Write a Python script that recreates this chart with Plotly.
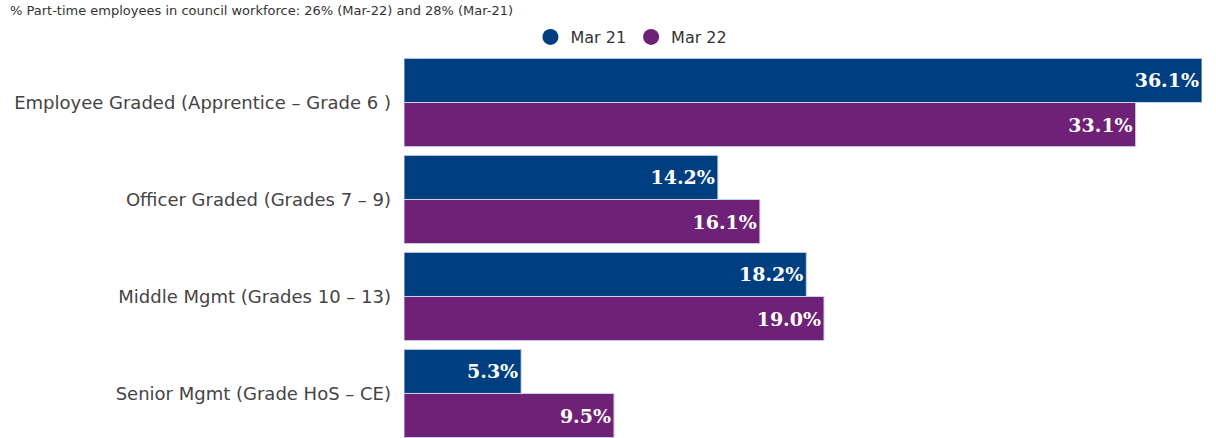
import plotly.graph_objects as go

categories = [
    "Employee Graded (Apprentice – Grade 6 )",
    "Officer Graded (Grades 7 – 9)",
    "Middle Mgmt (Grades 10 – 13)",
    "Senior Mgmt (Grade HoS – CE)",
]
series_names = ["Mar 21", "Mar 22"]
mar21 = [36.1, 14.2, 18.2, 5.3]
mar22 = [33.1, 16.1, 19.0, 9.5]
colors = ["#003f7f", "#6e2177"]
subtitle = "% Part-time employees in council workforce: 26% (Mar-22) and 28% (Mar-21)"

fig = go.Figure()
for name, vals, col in zip(series_names, [mar21, mar22], colors):
    fig.add_trace(go.Bar(
        y=categories, x=vals, orientation="h", name=name,
        marker=dict(color=col, line=dict(color="#c8d4e8", width=1)),
        text=[f"{v:.1f}%" for v in vals], textposition="inside",
        insidetextanchor="end",
        textfont=dict(family="DejaVu Serif", size=19, color="white", weight="bold"),
        showlegend=False,
    ))
    # circular legend markers
    fig.add_trace(go.Scatter(
        x=[None], y=[None], mode="markers", name=name,
        marker=dict(color=col, size=16, symbol="circle"),
    ))

fig.update_layout(
    width=1216, height=438,
    margin=dict(l=404, r=14, t=54, b=0),
    paper_bgcolor="white", plot_bgcolor="white",
    barmode="group", bargap=0.09, bargroupgap=0,
    font=dict(family="DejaVu Sans", color="#444444"),
    xaxis=dict(range=[0, 36.1], visible=False, fixedrange=True),
    yaxis=dict(
        type="category", categoryorder="array", categoryarray=categories,
        range=[3.459, -0.5], showgrid=False, showline=False, ticks="",
        ticklabelstandoff=12, tickfont=dict(size=18, color="#444444"),
    ),
    legend=dict(
        orientation="h", x=0.285, xanchor="center", y=1.0, yanchor="bottom",
        yref="paper", font=dict(size=16, color="#333333"),
        itemwidth=30, tracegroupgap=0,
    ),
    uniformtext=dict(minsize=8, mode="show"),
)
fig.add_annotation(
    text=subtitle, xref="paper", yref="paper", x=-396/798, xanchor="left",
    y=1, yanchor="bottom", yshift=34, showarrow=False,
    font=dict(size=13, color="#333333"),
)
fig.write_html("out.html")
